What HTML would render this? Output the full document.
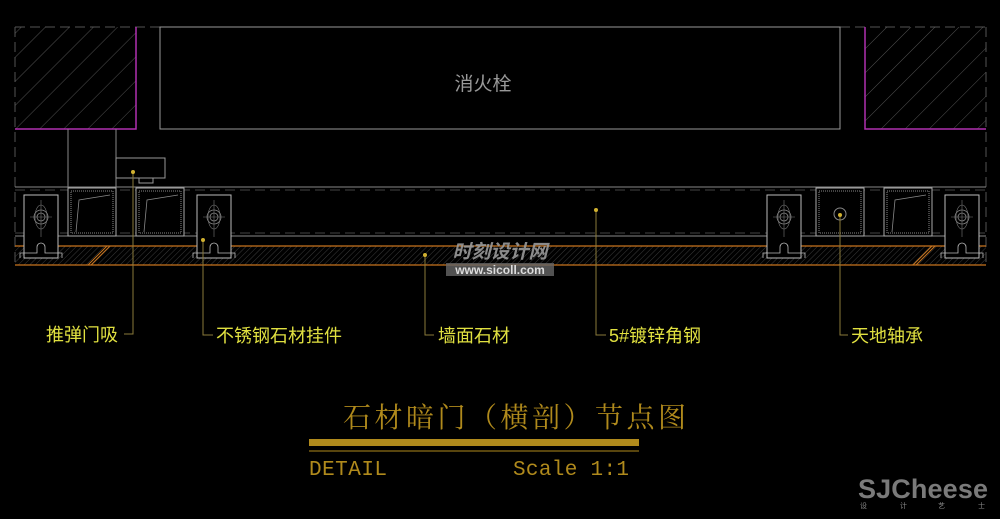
<!DOCTYPE html>
<html><head><meta charset="utf-8"><style>
html,body{margin:0;padding:0;background:#000;}
svg{display:block}
</style></head><body>
<svg width="1000" height="519" viewBox="0 0 1000 519" xmlns="http://www.w3.org/2000/svg">
<defs>
<pattern id="h1" width="17" height="17" patternUnits="userSpaceOnUse" patternTransform="rotate(45)">
<line x1="0" y1="0" x2="0" y2="17" stroke="#666" stroke-width="0.8"/>
</pattern>
<pattern id="h2" width="4" height="4" patternUnits="userSpaceOnUse" patternTransform="rotate(45)">
<line x1="0" y1="0" x2="0" y2="4" stroke="#4a4a4a" stroke-width="0.8"/>
</pattern>
<g id="br">
<rect x="0" y="0" width="34" height="63" fill="#000" stroke="#bbb" stroke-width="1"/>
<circle cx="17" cy="22" r="7" fill="none" stroke="#888" stroke-width="0.8"/>
<circle cx="17" cy="22" r="4" fill="none" stroke="#888" stroke-width="0.8"/>
<ellipse cx="17" cy="22" rx="6" ry="12" fill="none" stroke="#777" stroke-width="0.6"/>
<line x1="17" y1="5" x2="17" y2="42" stroke="#777" stroke-width="0.6"/>
<line x1="6" y1="22" x2="28" y2="22" stroke="#777" stroke-width="0.6"/>
<path d="M-4 63 V58 H13 V52 A4 4 0 0 1 21 52 V58 H38 V63" fill="none" stroke="#bbb" stroke-width="0.8"/>
</g>
<g id="tb">
<rect x="0" y="0" width="48" height="48" fill="#000" stroke="#aaa" stroke-width="1"/>
<rect x="3" y="3" width="42" height="42" fill="none" stroke="#888" stroke-width="1" stroke-dasharray="1 1"/>
</g>
</defs>
<rect width="1000" height="519" fill="#000"/>
<line x1="15" y1="27" x2="986" y2="27" stroke="#555" stroke-dasharray="10 5"/>
<line x1="15" y1="27" x2="15" y2="265" stroke="#555" stroke-dasharray="10 5"/>
<line x1="986" y1="27" x2="986" y2="265" stroke="#555" stroke-dasharray="10 5"/>
<rect x="15" y="27" width="121" height="102" fill="url(#h1)"/>
<path d="M15 129 H136 V27" fill="none" stroke="#b030b0" stroke-width="1.5"/>
<rect x="865" y="27" width="121" height="102" fill="url(#h1)"/>
<path d="M865 27 V129 H986" fill="none" stroke="#b030b0" stroke-width="1.5"/>
<rect x="160" y="27" width="680" height="102" fill="none" stroke="#999" stroke-width="1"/>
<text x="483" y="90" font-family="Liberation Sans,'Noto Sans CJK SC',sans-serif" font-size="19" fill="#999" text-anchor="middle">消火栓</text>
<line x1="68" y1="129" x2="68" y2="188" stroke="#888"/>
<line x1="116" y1="129" x2="116" y2="236" stroke="#888"/>
<rect x="116" y="158" width="49" height="20" fill="none" stroke="#999"/>
<rect x="139" y="178" width="14" height="5" fill="none" stroke="#999"/>
<line x1="15" y1="187" x2="986" y2="187" stroke="#888"/>
<line x1="15" y1="190" x2="986" y2="190" stroke="#444" stroke-dasharray="10 5"/>
<line x1="15" y1="233" x2="986" y2="233" stroke="#444" stroke-dasharray="10 5"/>
<line x1="15" y1="236" x2="986" y2="236" stroke="#888"/>
<rect x="15" y="246" width="971" height="19" fill="url(#h2)"/>
<line x1="15" y1="246" x2="986" y2="246" stroke="#c8741e" stroke-width="1.2"/>
<line x1="15" y1="265" x2="986" y2="265" stroke="#c8741e" stroke-width="1.2"/>
<line x1="88" y1="265" x2="107" y2="246" stroke="#c8741e"/>
<line x1="91" y1="265" x2="110" y2="246" stroke="#c8741e"/>
<line x1="913" y1="265" x2="932" y2="246" stroke="#c8741e"/>
<line x1="916" y1="265" x2="935" y2="246" stroke="#c8741e"/>
<use href="#tb" x="68" y="188"/>
<use href="#tb" x="136" y="188"/>
<use href="#tb" x="816" y="188"/>
<use href="#tb" x="884" y="188"/>
<path d="M76 232 L79 200 L110 195" fill="none" stroke="#888" stroke-width="0.8"/>
<path d="M144 232 L147 200 L178 195" fill="none" stroke="#888" stroke-width="0.8"/>
<path d="M892 232 L895 200 L926 195" fill="none" stroke="#888" stroke-width="0.8"/>
<circle cx="840" cy="214" r="6" fill="none" stroke="#888"/>
<use href="#br" x="24" y="195"/>
<use href="#br" x="197" y="195"/>
<use href="#br" x="767" y="195"/>
<use href="#br" x="945" y="195"/>
<g stroke="#8a7a3a" stroke-width="1" fill="none">
<path d="M133 172 V334 H124"/>
<path d="M203 240 V335 H213"/>
<path d="M425 255 V335 H434"/>
<path d="M596 210 V335 H606"/>
<path d="M840 215 V335 H848"/>
</g>
<g fill="#d0b030">
<circle cx="133" cy="172" r="2"/><circle cx="203" cy="240" r="2"/><circle cx="425" cy="255" r="2"/><circle cx="596" cy="210" r="2"/><circle cx="840" cy="215" r="2"/>
</g>
<g font-family="Liberation Sans,'Noto Sans CJK SC',sans-serif" font-size="18" fill="#e0e040">
<text x="46" y="341">推弹门吸</text>
<text x="216" y="342">不锈钢石材挂件</text>
<text x="438" y="342">墙面石材</text>
<text x="609" y="342">5#镀锌角钢</text>
<text x="851" y="342">天地轴承</text>
</g>
<text x="500" y="258" font-family="Liberation Sans,'Noto Sans CJK SC',sans-serif" font-size="19" font-weight="bold" font-style="italic" fill="#9a9a9a" text-anchor="middle" opacity="0.9">时刻设计网</text>
<rect x="446" y="263" width="108" height="13" fill="#666" opacity="0.8"/>
<text x="500" y="274" font-family="Liberation Sans,sans-serif" font-size="12" font-weight="bold" fill="#ddd" text-anchor="middle">www.sicoll.com</text>
<text x="343" y="427" font-family="'Noto Serif CJK SC','Liberation Serif',serif" font-size="28" fill="#b08a1c" textLength="343">石材暗门（横剖）节点图</text>
<rect x="309" y="439" width="330" height="7" fill="#b08a1c"/>
<line x1="309" y1="451" x2="639" y2="451" stroke="#b08a1c" stroke-width="1"/>
<text x="309" y="475" font-family="Liberation Mono,monospace" font-size="21" fill="#b08a1c" textLength="78">DETAIL</text>
<text x="513" y="475" font-family="Liberation Mono,monospace" font-size="21" fill="#b08a1c" textLength="116">Scale 1:1</text>
<text x="858" y="498" font-family="Liberation Sans,sans-serif" font-size="27" font-weight="bold" fill="#7a7a7a" textLength="130">SJCheese</text>
<g font-family="'Noto Sans CJK SC',sans-serif" font-size="7" fill="#888"><text x="860" y="508">设</text><text x="900" y="508">计</text><text x="938" y="508">艺</text><text x="978" y="508">士</text></g>
</svg>
</body></html>
